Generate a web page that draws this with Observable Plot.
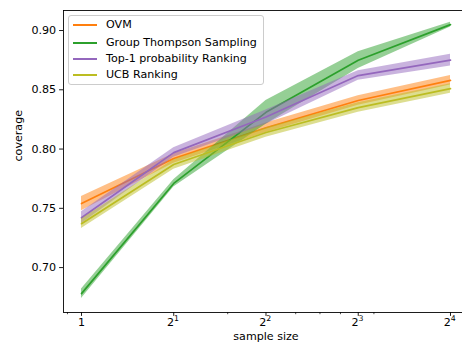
<!DOCTYPE html>
<html>
<head>
<meta charset="utf-8">
<script src="https://cdn.jsdelivr.net/npm/d3@7"></script>
<script src="https://cdn.jsdelivr.net/npm/@observablehq/plot@0.6"></script>
<style>
  body { margin: 0; background: #fff; }
  #wrap { position: relative; width: 462px; height: 347px; font-family: "DejaVu Sans", sans-serif; }
  #wrap svg { position: absolute; left: 0; top: 0; }
  .legend { position: absolute; left: 68px; top: 15px; width: 196px; height: 70px; border: 0.9px solid #cccccc; border-radius: 3px; background: rgba(255,255,255,0.8); box-sizing: border-box; }
  .legend .sw { position: absolute; left: 4px; width: 24px; height: 1.7px; }
  .legend .lb { position: absolute; left: 37px; font-size: 11.1px; line-height: 14px; height: 14px; color: #000; white-space: nowrap; }
</style>
</head>
<body>
<div id="wrap"></div>
<script>
const sizes = [1, 2, 4, 8, 16];
const seriesNames = ["OVM", "Group Thompson Sampling", "Top-1 probability Ranking", "UCB Ranking"];
const seriesColors = ["#ff7f0e", "#2ca02c", "#9467bd", "#bcbd22"];
const ovmMean = [0.754, 0.792, 0.818, 0.841, 0.858];
const ovmErr  = [0.006, 0.004, 0.004, 0.004, 0.004];
const gtsMean = [0.678, 0.771, 0.831, 0.875, 0.905];
const gtsErr  = [0.004, 0.003, 0.010, 0.007, 0.002];
const topMean = [0.742, 0.797, 0.827, 0.862, 0.875];
const topErr  = [0.005, 0.004, 0.006, 0.004, 0.005];
const ucbMean = [0.737, 0.787, 0.814, 0.835, 0.851];
const ucbErr  = [0.004, 0.004, 0.004, 0.004, 0.004];
const majorTicks = [1, 2, 4, 8, 16];
const majorBase = ["1", "2", "2", "2", "2"];
const majorExp = ["", "1", "2", "3", "4"];
const minorTicks = [0.9, 3, 5, 6, 7, 9];
const yTicks = [0.70, 0.75, 0.80, 0.85, 0.90];
const xDomain = [0.8736, 17.51];
const yDomain = [0.6621, 0.9169];

const means = [ovmMean, gtsMean, topMean, ucbMean];
const errs = [ovmErr, gtsErr, topErr, ucbErr];
const rows = [];
seriesNames.forEach((name, i) => {
  sizes.forEach((s, j) => {
    rows.push({series: name, x: s, y: means[i][j], lo: means[i][j] - errs[i][j], hi: means[i][j] + errs[i][j]});
  });
});

const tickLabels = majorTicks.map((t, i) => ({x: t, base: majorBase[i], exp: majorExp[i]}));
const plainLabels = tickLabels.filter(d => !d.exp);
const powLabels = tickLabels.filter(d => d.exp);

const marks = [];
seriesNames.forEach((name, i) => {
  const d = rows.filter(r => r.series === name);
  marks.push(Plot.areaY(d, {x: "x", y1: "lo", y2: "hi", fill: seriesColors[i], fillOpacity: 0.5}));
  marks.push(Plot.lineY(d, {x: "x", y: "y", stroke: seriesColors[i], strokeWidth: 1.67}));
});

const chart = Plot.plot({
  width: 462,
  height: 347,
  marginLeft: 63,
  marginRight: 0,
  marginTop: 10,
  marginBottom: 35,
  style: {fontFamily: "DejaVu Sans", fontSize: "11.1px", color: "#000", background: "#fff"},
  x: {type: "log", domain: xDomain, axis: null},
  y: {domain: yDomain, axis: null},
  marks: [
    ...marks,
    Plot.axisX({ticks: minorTicks, tickSize: 2.2, tickFormat: () => "", stroke: "#000", strokeWidth: 0.7, label: null}),
    Plot.axisX({ticks: majorTicks, tickSize: 3.9, tickFormat: () => "", stroke: "#000", strokeWidth: 0.89, label: null}),
    Plot.text(plainLabels, {x: "x", text: "base", frameAnchor: "bottom", dy: 13.5, textAnchor: "middle", fontSize: 11.1, fill: "#000"}),
    Plot.text(powLabels, {x: "x", text: "base", frameAnchor: "bottom", dy: 13.5, textAnchor: "end", dx: 0.3, fontSize: 11.1, fill: "#000"}),
    Plot.text(powLabels, {x: "x", text: "exp", frameAnchor: "bottom", dy: 8.2, textAnchor: "start", dx: 0.3, fontSize: 7.8, fill: "#000"}),
    Plot.axisY({ticks: yTicks, tickSize: 3.9, tickPadding: 3.5, tickFormat: d3.format(".2f"), fontSize: 11.1, stroke: "#000", strokeWidth: 0.89, label: null}),
    Plot.ruleX([xDomain[0]], {stroke: "#000", strokeWidth: 0.89}),
    Plot.ruleY([yDomain[0], yDomain[1]], {stroke: "#000", strokeWidth: 0.89}),
    Plot.text(["coverage"], {text: d => d, frameAnchor: "left", dx: -45, rotate: -90, fontSize: 11.1, fill: "#000"}),
    Plot.text(["sample size"], {text: d => d, frameAnchor: "bottom", dy: 27, dx: 3, fontSize: 11.1, fill: "#000"})
  ]
});

const wrap = document.getElementById("wrap");
wrap.appendChild(chart);

const legend = document.createElement("div");
legend.className = "legend";
const rowCenters = [9.3, 26.7, 43, 59.3];
seriesNames.forEach((name, i) => {
  const sw = document.createElement("div");
  sw.className = "sw";
  sw.style.background = seriesColors[i];
  sw.style.top = (rowCenters[i] - 0.85) + "px";
  const lb = document.createElement("div");
  lb.className = "lb";
  lb.style.top = (rowCenters[i] - 7) + "px";
  lb.textContent = name;
  legend.appendChild(sw);
  legend.appendChild(lb);
});
wrap.appendChild(legend);
</script>
</body>
</html>
